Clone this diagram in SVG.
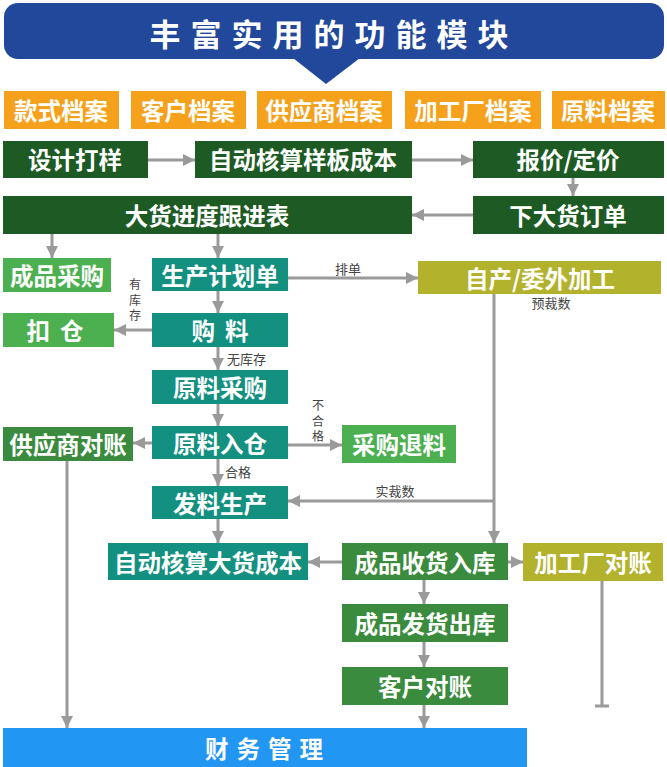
<svg xmlns="http://www.w3.org/2000/svg" width="667" height="767" viewBox="0 0 667 767">
<defs>
<style>
.t{font-family:"Noto Sans CJK SC","Noto Sans",sans-serif;font-weight:700;fill:#fff;text-anchor:middle;dominant-baseline:central}
.b{font-size:23.5px}
.l{font-family:"Noto Sans CJK SC","Noto Sans",sans-serif;font-size:13px;fill:#444}
.v{font-size:12px}
.c{stroke:#9a9a9a;stroke-width:3;fill:none}
.or{fill:#F6A11B}.dg{fill:#1E5B24}.lg{fill:#4CAF50}.te{fill:#13907F}.ol{fill:#B3B22C}.mg{fill:#3A8B3D}.bl{fill:#2196F3}
</style>
<marker id="a" viewBox="0 0 12 12" refX="12" refY="6" markerWidth="12" markerHeight="12" markerUnits="userSpaceOnUse" orient="auto">
<path d="M0,0 L12,6 L0,12 Z" fill="#9a9a9a"/>
</marker>
</defs>

<g id="banner">
<rect x="4" y="3" width="660" height="56" rx="14" fill="#22489C"/>
<path d="M293,58 L360,58 L326,84 Z" fill="#22489C"/>
<text class="t" x="334" y="32" style="font-size:31px;letter-spacing:10px">丰富实用的功能模块</text>
</g>

<g id="n-kuanshi"><rect class="or" x="4" y="91" width="115" height="38"/><text class="t b" x="61" y="110">款式档案</text></g>
<g id="n-kehu"><rect class="or" x="131" y="91" width="115" height="38"/><text class="t b" x="188" y="110">客户档案</text></g>
<g id="n-gys"><rect class="or" x="257" y="91" width="135" height="38"/><text class="t b" x="324" y="110">供应商档案</text></g>
<g id="n-jgc"><rect class="or" x="405" y="91" width="136" height="38"/><text class="t b" x="473" y="110">加工厂档案</text></g>
<g id="n-yl"><rect class="or" x="552" y="91" width="113" height="38"/><text class="t b" x="608" y="110">原料档案</text></g>

<g id="n-sjdy"><rect class="dg" x="3" y="141" width="145" height="37"/><text class="t b" x="75" y="159">设计打样</text></g>
<g id="n-ybcb"><rect class="dg" x="195" y="141" width="217" height="37"/><text class="t b" x="303" y="159">自动核算样板成本</text></g>
<g id="n-bj"><rect class="dg" x="473" y="141" width="191" height="37"/><text class="t b" x="568" y="159">报价/定价</text></g>
<g id="n-dhjd"><rect class="dg" x="3" y="196" width="409" height="38"/><text class="t b" x="207" y="215">大货进度跟进表</text></g>
<g id="n-xdd"><rect class="dg" x="473" y="196" width="191" height="38"/><text class="t b" x="568" y="215">下大货订单</text></g>

<g id="n-cpcg"><rect class="lg" x="3" y="258" width="108" height="34"/><text class="t b" x="57" y="275">成品采购</text></g>
<g id="n-scjh"><rect class="te" x="152" y="258" width="136" height="33"/><text class="t b" x="220" y="274.5">生产计划单</text></g>
<g id="n-zc"><rect class="ol" x="418" y="261" width="243" height="33"/><text class="t b" x="540" y="277.5">自产/委外加工</text></g>

<g id="n-kc"><rect class="lg" x="3" y="313" width="111" height="34"/><text class="t b" x="60" y="330" style="letter-spacing:10px">扣仓</text></g>
<g id="n-gl"><rect class="te" x="152" y="313" width="136" height="34"/><text class="t b" x="225" y="330" style="letter-spacing:10px">购料</text></g>

<g id="n-ylcg"><rect class="te" x="152" y="370" width="136" height="34"/><text class="t b" x="220" y="387">原料采购</text></g>
<g id="n-ylrc"><rect class="te" x="152" y="426" width="136" height="33"/><text class="t b" x="220" y="442.5">原料入仓</text></g>
<g id="n-gysdz"><rect class="mg" x="3" y="427" width="130" height="34"/><text class="t b" x="68" y="444">供应商对账</text></g>
<g id="n-cgtl"><rect class="lg" x="342" y="425" width="114" height="38"/><text class="t b" x="399" y="444">采购退料</text></g>
<g id="n-flsc"><rect class="te" x="152" y="486" width="136" height="33"/><text class="t b" x="220" y="502.5">发料生产</text></g>

<g id="n-dhcb"><rect class="te" x="108" y="543" width="200" height="37"/><text class="t b" x="208" y="561.5">自动核算大货成本</text></g>
<g id="n-cpsh"><rect class="mg" x="342" y="543" width="166" height="37"/><text class="t b" x="425" y="561.5">成品收货入库</text></g>
<g id="n-jgcdz"><rect class="ol" x="523" y="543" width="140" height="38"/><text class="t b" x="593" y="562">加工厂对账</text></g>
<g id="n-cpfh"><rect class="mg" x="342" y="604" width="166" height="38"/><text class="t b" x="425" y="623">成品发货出库</text></g>
<g id="n-khdz"><rect class="mg" x="342" y="667" width="166" height="38"/><text class="t b" x="425" y="686">客户对账</text></g>
<g id="n-cwgl"><rect class="bl" x="3" y="728" width="524" height="39"/><text class="t b" x="268" y="747.5" style="letter-spacing:8px">财务管理</text></g>

<g id="connectors">
<path class="c" d="M148,160 H195" marker-end="url(#a)"/>
<path class="c" d="M412,160 H473" marker-end="url(#a)"/>
<path class="c" d="M573,178 V196" marker-end="url(#a)"/>
<path class="c" d="M473,215 H412" marker-end="url(#a)"/>
<path class="c" d="M52,234 V258" marker-end="url(#a)"/>
<path class="c" d="M218,234 V258" marker-end="url(#a)"/>
<path class="c" d="M288,278 H418" marker-end="url(#a)"/>
<path class="c" d="M218,291 V313" marker-end="url(#a)"/>
<path class="c" d="M152,330 H114" marker-end="url(#a)"/>
<path class="c" d="M218,347 V370" marker-end="url(#a)"/>
<path class="c" d="M218,404 V426" marker-end="url(#a)"/>
<path class="c" d="M152,443 H133" marker-end="url(#a)"/>
<path class="c" d="M288,445 H342" marker-end="url(#a)"/>
<path class="c" d="M218,459 V486" marker-end="url(#a)"/>
<path class="c" d="M494,294 V543" marker-end="url(#a)"/>
<path class="c" d="M494,501 H288" marker-end="url(#a)"/>
<path class="c" d="M218,519 V543" marker-end="url(#a)"/>
<path class="c" d="M342,562 H308" marker-end="url(#a)"/>
<path class="c" d="M508,562 H523" marker-end="url(#a)"/>
<path class="c" d="M424,580 V604" marker-end="url(#a)"/>
<path class="c" d="M424,642 V667" marker-end="url(#a)"/>
<path class="c" d="M424,705 V728" marker-end="url(#a)"/>
<path class="c" d="M67,461 V728" marker-end="url(#a)"/>
<path class="c" d="M602,581 V706 M595,706 H609"/>
<text class="l" x="348" y="274" text-anchor="middle">排单</text>
<text class="l" x="551" y="308" text-anchor="middle">预裁数</text>
<text class="l v" x="135" text-anchor="middle"><tspan x="135" y="289">有</tspan><tspan x="135" y="304.5">库</tspan><tspan x="135" y="320">存</tspan></text>
<text class="l" x="227" y="364">无库存</text>
<text class="l v" x="318" text-anchor="middle"><tspan x="318" y="410">不</tspan><tspan x="318" y="425.5">合</tspan><tspan x="318" y="441">格</tspan></text>
<text class="l" x="225" y="477">合格</text>
<text class="l" x="395" y="496" text-anchor="middle">实裁数</text>
</g>
</svg>
